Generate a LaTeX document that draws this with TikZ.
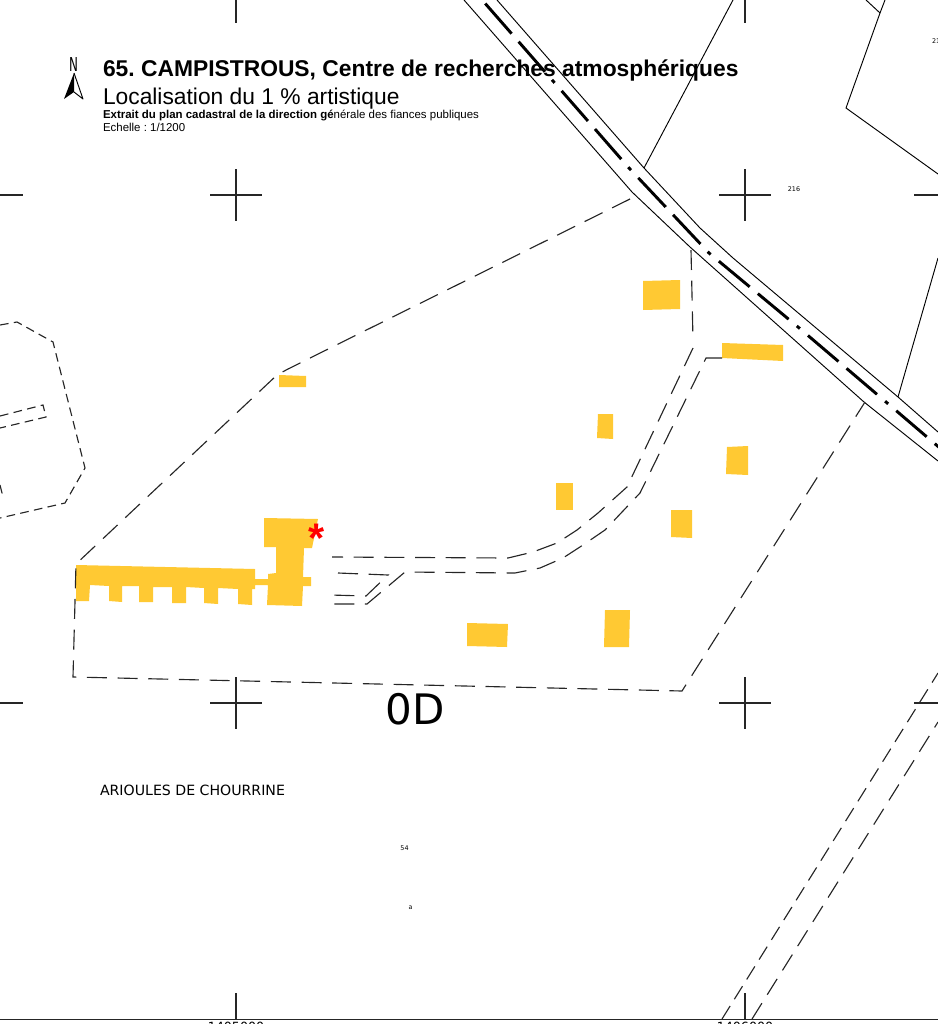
\documentclass[tikz,border=0pt]{standalone}
\usepackage{fontspec}
\setmainfont{Liberation Sans}
\newfontfamily\mapfont{DejaVu Sans}
\definecolor{batiyellow}{HTML}{FFC933}
\frenchspacing
\tikzset{
    thinline/.style={draw=black,line width=0.7pt},
    parcel/.style={draw=black!85,line width=0.85pt,dash pattern=on 15pt off 8pt},
    shortdash/.style={draw=black!85,line width=0.85pt,dash pattern=on 6.5pt off 4pt},
    railaxis/.style={draw=black,line width=2.2pt,dash pattern=on 3pt off 8pt on 30pt off 8pt on 30pt off 8pt},
    repere/.style={draw=black!85,line width=0.9pt},
    bati/.style={fill=batiyellow,draw=none},
    every node/.style={inner sep=0pt,outer sep=0pt}
}
\begin{document}
\begin{tikzpicture}[x=0.75pt,y=-0.75pt]
    \useasboundingbox (0,0) rectangle (938,1024);
    \clip (0,0) rectangle (938,1024);

    % grid marks
    \foreach \cx in {236,745} {
        \foreach \cy in {195,703} {
            \draw[repere] (\cx-26,\cy) -- (\cx+26,\cy);
            \draw[repere] (\cx,\cy-26) -- (\cx,\cy+26);
        }
        \draw[repere] (\cx,0) -- (\cx,23);
        \draw[repere] (\cx,993) -- (\cx,1019);
    }
    \foreach \cy in {195,703} {
        \draw[repere] (0,\cy) -- (23,\cy);
        \draw[repere] (914,\cy) -- (938,\cy);
    }
    \draw[line width=1pt,draw=black!85] (0,1019.5) -- (938,1019.5);

    % buildings
    \fill[bati] (643,281) -- (680,280) -- (680,309) -- (643,310) -- cycle;
    \fill[bati] (722,343) -- (783,345) -- (783,361) -- (722,358) -- cycle;
    \fill[bati] (279,375) -- (306,376) -- (306,387) -- (279,387) -- cycle;
    \fill[bati] (598,414) -- (613,414) -- (613,439) -- (597,438) -- cycle;
    \fill[bati] (727,447) -- (748,446) -- (748,475) -- (726,474) -- cycle;
    \fill[bati] (556,483) -- (573,483) -- (573,510) -- (556,510) -- cycle;
    \fill[bati] (671,510) -- (692,510) -- (692,538) -- (671,537) -- cycle;
    \fill[bati] (467,623) -- (508,624) -- (507,647) -- (467,646) -- cycle;
    \fill[bati] (605,610) -- (630,610) -- (629,647) -- (604,647) -- cycle;
    \fill[bati] (264,518) -- (318,519) -- (312,548) -- (304,548) -- (303,577)
        -- (311,577) -- (311,586) -- (303,586) -- (302,606) -- (267,605)
        -- (268,585) -- (255,585) -- (255,589) -- (252,589) -- (252,605)
        -- (238,604) -- (238,589) -- (218,588) -- (218,604) -- (204,603)
        -- (204,588) -- (186,587) -- (186,603) -- (172,603) -- (172,587)
        -- (153,587) -- (153,602) -- (139,602) -- (139,586) -- (122,586)
        -- (122,602) -- (109,601) -- (109,586) -- (90,585) -- (89,601)
        -- (76,601) -- (76,565) -- (255,569) -- (255,579) -- (268,579)
        -- (268,574) -- (276,573) -- (276,547) -- (264,547) -- cycle;

    % road
    \draw[thinline] (464,0) -- (632,192) -- (690,247) -- (864,402) -- (938,461);
    \draw[thinline] (497,0) -- (644,168) -- (700,228) -- (733,258) -- (898,397) -- (938,432);
    \draw[railaxis] (475.6,-7.5) -- (553,81) -- (629,168) -- (709,253)
        -- (798,327) -- (886,402) -- (975,478);

    % parcels, solid
    \draw[thinline] (733,0) -- (644,168);
    \draw[thinline] (866,0) -- (880,13) -- (846,108) -- (938,174);
    \draw[thinline] (885,0) -- (880,13);
    \draw[thinline] (938,258) -- (898,397);

    % parcels, dashed
    \draw[parcel] (630,199) -- (288,369) -- (277,375) -- (76,564) -- (73,677)
        -- (682,691) -- (865,402);
    \draw[parcel] (691,250) -- (693,340);
    \draw[parcel] (693,348) -- (627,487) -- (598,513) -- (577,530) -- (557,543)
        -- (533,552) -- (508,558) -- (332,557);
    \draw[parcel] (722,358) -- (706,358) -- (640,493) -- (605,530) -- (583,545)
        -- (563,558) -- (540,568) -- (515,573) -- (405,572) -- (367,604) -- (331,604);
    \draw[parcel] (338,573) -- (388,575) -- (366,596) -- (330,595);
    \draw[parcel,dash pattern=on 11.5pt off 6pt] (722,1019) -- (938,673);
    \draw[parcel,dash pattern=on 14pt off 7.5pt] (752,1019) -- (938,722);

    % neighbour, short dashes
    \draw[shortdash] (0,325) -- (17,322) -- (53,342) -- (85,468) -- (65,503) -- (0,518);
    \draw[shortdash] (0,416) -- (43,405) -- (46,417) -- (0,428);
    \draw[shortdash] (0,485) -- (2,493) -- (0,494);

    % north arrow
    \fill[black] (74,73) -- (64,99) -- (74,92) -- cycle;
    \draw[thinline,line join=round] (74,73) -- (83,99) -- (74,92);
    \node[font=\mapfont\fontsize{14.4}{15}\selectfont\addfontfeature{FakeStretch=0.62},anchor=base] (north) at (73.5,72) {N};

    % titles
    \node[font=\bfseries\fontsize{17.12}{17}\selectfont,anchor=base west] (title) at (103,76.5) {65. CAMPISTROUS, Centre de recherches atmosphériques};
    \node[font=\fontsize{17.1}{17}\selectfont,anchor=base west] (subtitle) at (103,104) {Localisation du 1 \% artistique};
    \node[font=\fontsize{8.6}{8}\selectfont,anchor=base west] (source) at (103,118) {\textbf{Extrait du plan cadastral de la direction gé}nérale des fiances publiques};
    \node[font=\fontsize{8.6}{8}\selectfont,anchor=base west] (scale) at (103,131.5) {Echelle : 1/1200};

    % map labels
    \node[font=\mapfont\fontsize{31.5}{31}\selectfont,anchor=base] (section) at (415.5,724) {0D};
    \node[font=\mapfont\fontsize{10.6}{10}\selectfont,anchor=base west] (lieu) at (100,795) {ARIOULES DE CHOURRINE};
    \node[font=\mapfont\fontsize{4.8}{5}\selectfont,anchor=base] (n216) at (794,191) {216};
    \node[font=\mapfont\fontsize{4.8}{5}\selectfont,anchor=base west] (n21) at (932,43.5) {21};
    \node[font=\mapfont\fontsize{4.8}{5}\selectfont,anchor=base] (n54) at (404.5,850) {54};
    \node[font=\mapfont\fontsize{4.8}{5}\selectfont,anchor=base] (na) at (410.5,909) {a};
    \node[font=\mapfont\fontsize{9.5}{10}\selectfont,anchor=base] (coordw) at (236,1031) {1405000};
    \node[font=\mapfont\fontsize{9.5}{10}\selectfont,anchor=base] (coorde) at (745,1031) {1406000};

    % marker
    \node[font=\bfseries\fontsize{31}{31}\selectfont,text=red,anchor=center] (marker) at (316.5,538) {*};
\end{tikzpicture}
\end{document}
